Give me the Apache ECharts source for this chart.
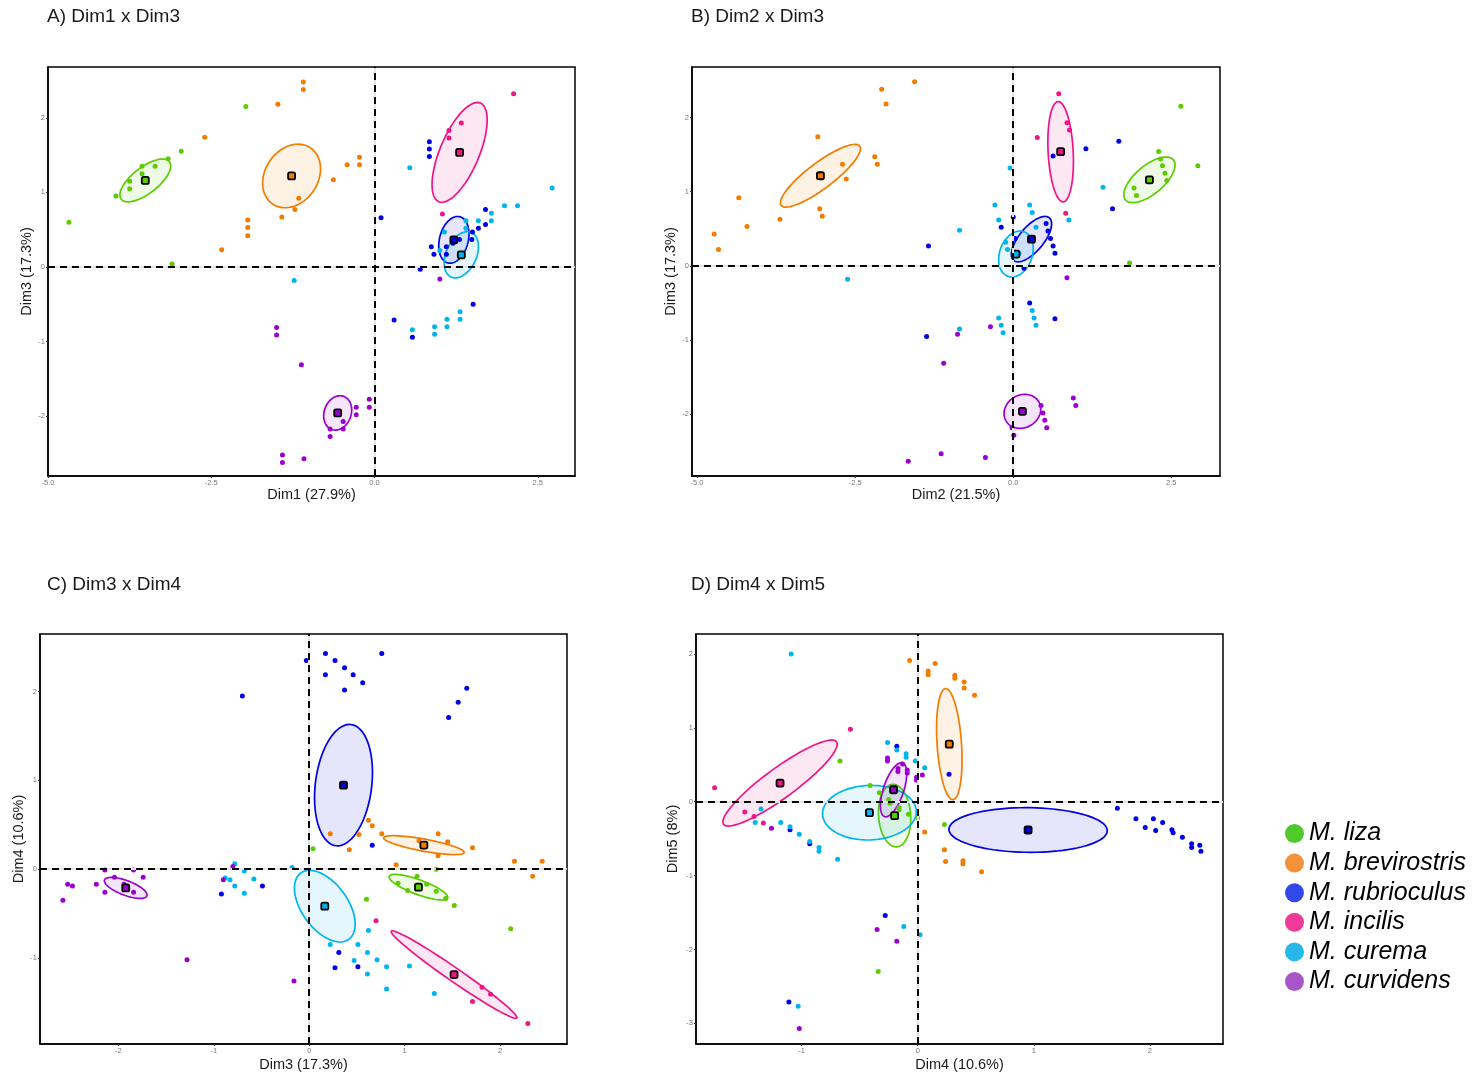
<!DOCTYPE html>
<html>
<head>
<meta charset="utf-8">
<script src="https://cdn.jsdelivr.net/npm/echarts@6/dist/echarts.min.js"></script>
<style>
  html, body { margin: 0; padding: 0; background: #fff; }
  #main { width: 1483px; height: 1076px; }
</style>
</head>
<body>
<div id="main"></div>
<script>
// species, in legend order
var species = ['M. liza', 'M. brevirostris', 'M. rubrioculus', 'M. incilis', 'M. curema', 'M. curvidens'];

// panel texts and tick labels
var panelTitles = ['A) Dim1 x Dim3', 'B) Dim2 x Dim3', 'C) Dim3 x Dim4', 'D) Dim4 x Dim5'];
var xNames = ['Dim1 (27.9%)', 'Dim2 (21.5%)', 'Dim3 (17.3%)', 'Dim4 (10.6%)'];
var yNames = ['Dim3 (17.3%)', 'Dim3 (17.3%)', 'Dim4 (10.6%)', 'Dim5 (8%)'];
var xTicksAB = [-5, -2.5, 0, 2.5];
var yTicksAB = [-2, -1, 0, 1, 2];
var xTicksC = [-2, -1, 0, 1, 2];
var yTicksC = [-1, 0, 1, 2];
var xTicksD = [-1, 0, 1, 2];
var yTicksD = [-3, -2, -1, 0, 1, 2];

// A) Dim1 x Dim3 individuals
var lizaA = [[-4.68,0.60],[-3.96,0.95],[-3.75,1.05],[-3.75,1.15],[-3.56,1.25],[-3.56,1.35],[-3.36,1.35],[-3.16,1.45],[-2.96,1.55],[-1.97,2.15],[-3.10,0.04]];
var brevA = [[-1.09,2.48],[-1.09,2.38],[-1.48,2.18],[-2.60,1.74],[-0.23,1.47],[-0.23,1.37],[-0.42,1.37],[-0.63,1.17],[-1.16,0.92],[-1.22,0.77],[-1.42,0.67],[-1.94,0.63],[-1.94,0.53],[-1.94,0.42],[-2.34,0.23]];
var rubA = [[0.84,1.68],[0.84,1.58],[0.84,1.48],[0.10,0.66],[1.70,0.77],[1.59,0.52],[1.70,0.57],[1.50,0.47],[1.49,0.37],[1.30,0.37],[0.87,0.27],[0.91,0.17],[1.10,0.27],[1.10,0.17],[1.20,0.32],[0.70,-0.03],[0.30,-0.71],[0.58,-0.94],[1.51,-0.50]];
var incA = [[2.13,2.32],[1.33,1.93],[1.14,1.83],[1.14,1.73],[1.04,0.71]];
var curA = [[0.54,1.33],[2.72,1.06],[1.99,0.82],[2.19,0.82],[1.79,0.72],[1.79,0.62],[1.59,0.62],[1.40,0.62],[1.40,0.52],[1.07,0.47],[1.00,0.22],[-1.23,-0.18],[1.31,-0.60],[1.31,-0.70],[1.11,-0.70],[1.11,-0.80],[0.92,-0.80],[0.92,-0.90],[0.58,-0.84]];
var curvA = [[-1.50,-0.81],[-1.50,-0.91],[-1.12,-1.31],[-0.08,-1.77],[-0.08,-1.88],[-0.28,-1.88],[-0.28,-1.98],[-0.48,-2.07],[-0.48,-2.17],[-0.68,-2.17],[-0.68,-2.27],[-1.41,-2.52],[-1.41,-2.62],[-1.08,-2.57],[1.00,-0.16]];

// B) Dim2 x Dim3 individuals
var lizaB = [[2.65,2.15],[2.92,1.35],[2.30,1.54],[2.33,1.44],[2.36,1.35],[2.40,1.25],[2.43,1.15],[1.91,1.05],[1.95,0.95],[1.84,0.04]];
var brevB = [[-1.56,2.48],[-2.08,2.38],[-2.01,2.18],[-3.09,1.74],[-2.19,1.47],[-2.15,1.37],[-2.70,1.37],[-2.64,1.17],[-4.34,0.92],[-4.21,0.53],[-3.69,0.63],[-3.06,0.77],[-3.02,0.67],[-4.73,0.43],[-4.66,0.22]];
var rubB = [[1.15,1.58],[1.67,1.68],[0.63,1.48],[1.57,0.77],[0.00,0.66],[-0.19,0.52],[0.52,0.57],[0.55,0.47],[0.59,0.37],[0.63,0.27],[0.66,0.17],[0.03,0.37],[-1.34,0.27],[0.17,-0.03],[0.26,-0.50],[0.66,-0.71],[-1.37,-0.95]];
var incB = [[0.72,2.32],[0.85,1.93],[0.89,1.83],[0.38,1.73],[0.83,0.71]];
var curB = [[-0.05,1.32],[-0.29,0.82],[0.26,0.82],[0.30,0.72],[-0.23,0.62],[0.36,0.52],[0.88,0.62],[1.42,1.06],[-0.85,0.48],[-0.12,0.32],[-0.09,0.22],[0.09,0.17],[-2.62,-0.18],[0.30,-0.60],[0.33,-0.70],[0.36,-0.80],[-0.23,-0.70],[-0.19,-0.80],[-0.16,-0.90],[-0.85,-0.85]];
var curvB = [[0.85,-0.16],[-0.36,-0.82],[-0.88,-0.92],[-1.10,-1.31],[0.95,-1.78],[0.99,-1.88],[0.44,-1.88],[0.47,-1.98],[0.50,-2.08],[0.53,-2.18],[-0.02,-2.18],[0.01,-2.28],[-1.14,-2.53],[-1.66,-2.63],[-0.44,-2.58]];

// C) Dim3 x Dim4 individuals
var lizaC = [[0.04,0.23],[1.33,0.00],[1.13,-0.08],[0.93,-0.16],[1.23,-0.17],[1.03,-0.24],[1.33,-0.25],[1.43,-0.33],[1.52,-0.41],[0.60,-0.34],[2.11,-0.67]];
var brevC = [[0.62,0.55],[0.66,0.49],[0.76,0.40],[0.52,0.39],[0.22,0.40],[0.42,0.22],[1.35,0.40],[1.45,0.31],[1.15,0.32],[1.71,0.24],[1.35,0.15],[0.91,0.05],[2.15,0.09],[2.44,0.09],[2.34,-0.08]];
var rubC = [[0.17,2.43],[-0.03,2.35],[0.27,2.35],[0.37,2.27],[0.46,2.19],[0.17,2.19],[0.56,2.10],[0.37,2.02],[0.76,2.43],[1.65,2.04],[1.56,1.88],[1.46,1.71],[-0.70,1.95],[0.66,0.27],[-0.49,-0.19],[-0.92,-0.28],[0.31,-0.94],[0.27,-1.11],[0.51,-1.10]];
var incC = [[0.70,-0.58],[1.81,-1.33],[1.90,-1.41],[1.71,-1.49],[2.29,-1.74]];
var curC = [[-0.78,0.06],[-0.88,-0.10],[-0.83,-0.12],[-0.68,-0.02],[-0.78,-0.19],[-0.58,-0.11],[-0.68,-0.27],[-0.18,0.02],[0.22,-0.85],[0.51,-0.85],[0.61,-0.94],[0.47,-1.03],[0.71,-1.02],[0.81,-1.10],[0.61,-1.18],[1.05,-1.09],[0.81,-1.35],[1.31,-1.40],[0.62,-0.69]];
var curvC = [[-2.14,-0.01],[-1.84,-0.01],[-2.04,-0.09],[-1.74,-0.09],[-2.53,-0.17],[-2.48,-0.19],[-2.23,-0.17],[-1.94,-0.17],[-2.14,-0.26],[-1.84,-0.26],[-2.58,-0.35],[-0.80,0.03],[-0.90,-0.12],[-1.28,-1.02],[-0.16,-1.26]];

// D) Dim4 x Dim5 individuals
var lizaD = [[-0.67,0.55],[-0.41,0.22],[-0.33,0.12],[-0.25,0.03],[-0.24,-0.02],[-0.16,-0.08],[-0.16,-0.11],[-0.08,-0.17],[0.00,-0.22],[0.23,-0.31],[-0.34,-2.30]];
var brevD = [[-0.07,1.91],[0.15,1.87],[0.09,1.77],[0.09,1.72],[0.32,1.71],[0.32,1.67],[0.40,1.62],[0.40,1.54],[0.49,1.44],[0.06,-0.41],[0.23,-0.65],[0.24,-0.81],[0.39,-0.80],[0.39,-0.84],[0.55,-0.95]];
var rubD = [[-0.18,0.75],[0.27,0.37],[1.72,-0.09],[1.88,-0.23],[1.96,-0.35],[2.03,-0.23],[2.05,-0.39],[2.11,-0.28],[2.19,-0.38],[2.20,-0.42],[2.28,-0.48],[2.36,-0.57],[2.36,-0.62],[2.43,-0.59],[2.44,-0.67],[-1.10,-0.38],[-0.93,-0.57],[-0.28,-1.54],[-1.11,-2.71]];
var incD = [[-0.58,0.98],[-1.75,0.19],[-1.49,-0.14],[-1.41,-0.20],[-1.33,-0.29]];
var curD = [[-1.09,2.00],[-0.26,0.80],[-0.18,0.70],[-0.10,0.65],[-0.10,0.60],[-0.02,0.55],[0.06,0.46],[-1.35,-0.10],[-1.40,-0.28],[-1.18,-0.28],[-1.10,-0.34],[-1.02,-0.44],[-0.93,-0.54],[-0.85,-0.62],[-0.85,-0.67],[-0.69,-0.78],[-0.12,-1.69],[0.02,-1.80],[-1.03,-2.77]];
var curvD = [[-0.26,0.59],[-0.26,0.55],[-0.17,0.45],[-0.17,0.41],[-0.13,0.51],[-0.09,0.43],[-0.09,0.39],[-0.01,0.33],[0.04,0.36],[-0.01,0.29],[-1.26,-0.36],[-0.35,-1.73],[-0.18,-1.89],[-1.02,-3.07]];

// group ellipses: [centerX, centerY, axis1 dx, axis1 dy, axis2 dx, axis2 dy] (data units)
var ellA = [[-3.51,1.16,0.37,0.25,0.12,-0.14],[-1.27,1.22,0.295,0.373,0.331,-0.205],[1.215,0.364,0.093,0.309,0.212,-0.05],[1.303,1.536,0.319,0.661,0.276,-0.103],[1.329,0.164,0.157,0.297,0.211,-0.086],[-0.564,-1.955,0.092,0.222,0.194,-0.062]];
var ellB = [[2.154,1.16,0.378,0.27,0.145,-0.147],[-3.049,1.215,0.621,0.399,0.123,-0.139],[0.289,0.361,0.282,0.287,0.148,-0.105],[0.75,1.539,-0.041,0.675,0.198,0.009],[0.043,0.16,0.128,0.30,0.242,-0.075],[0.145,-1.959,0.26,0.128,0.129,-0.19]];
var ellC = [[1.144,-0.203,0.306,-0.122,-0.028,-0.077],[1.201,0.271,0.421,-0.083,-0.012,-0.067],[0.359,0.947,0.079,0.683,0.293,-0.038],[1.517,-1.188,0.657,-0.489,0.041,0.062],[0.163,-0.417,0.249,-0.376,0.198,0.147],[-1.922,-0.211,0.222,-0.09,-0.028,-0.077]];
var ellD = [[-0.199,-0.189,-0.018,0.423,0.138,0.014],[0.272,0.779,-0.032,0.752,0.105,0.011],[0.951,-0.383,0.682,-0.009,0,-0.302],[-1.186,0.252,0.486,0.559,0.079,-0.162],[-0.416,-0.149,0.404,0.014,0,-0.369],[-0.208,0.162,0.077,0.364,0.083,-0.042]];

var font = "'Liberation Sans', Arial, Helvetica, sans-serif";
var colors = ['#5ccc00', '#f27c00', '#0000e6', '#ee1589', '#00b4ee', '#9a00cf'];
var legendColors = ['#4fca2a', '#f3923a', '#3249ea', '#ee3b97', '#27b8ea', '#a855c9'];

function rgba(hex, a) {
  var n = parseInt(hex.slice(1), 16);
  return 'rgba(' + (n >> 16 & 255) + ',' + (n >> 8 & 255) + ',' + (n & 255) + ',' + a + ')';
}

var panels = [
  { pts: [lizaA, brevA, rubA, incA, curA, curvA], ell: ellA, xt: xTicksAB, yt: yTicksAB, dec: true,
    grid: { left: 48, top: 67, width: 527, height: 409 }, x: [-5, 3.07], y: [-2.8, 2.68], tl: [47, 7], xg: 11, yg: 13 },
  { pts: [lizaB, brevB, rubB, incB, curB, curvB], ell: ellB, xt: xTicksAB, yt: yTicksAB, dec: true,
    grid: { left: 692, top: 67, width: 528, height: 409 }, x: [-5.08, 3.27], y: [-2.83, 2.68], tl: [691, 7], xg: 11, yg: 10 },
  { pts: [lizaC, brevC, rubC, incC, curC, curvC], ell: ellC, xt: xTicksC, yt: yTicksC, dec: false,
    grid: { left: 40, top: 634, width: 527, height: 410 }, x: [-2.82, 2.70], y: [-1.97, 2.65], tl: [47, 575], xg: 13, yg: 14 },
  { pts: [lizaD, brevD, rubD, incD, curD, curvD], ell: ellD, xt: xTicksD, yt: yTicksD, dec: false,
    grid: { left: 696, top: 634, width: 527, height: 410 }, x: [-1.91, 2.63], y: [-3.28, 2.27], tl: [691, 575], xg: 13, yg: 16 }
];

var grids = [], xAxes = [], yAxes = [], titles = [], series = [];

panels.forEach(function (p, gi) {
  grids.push(Object.assign({ show: true, borderColor: '#000', borderWidth: 1.5, backgroundColor: '#fff' }, p.grid));
  titles.push({ text: panelTitles[gi], left: p.tl[0], top: p.tl[1], padding: 0,
    textStyle: { fontFamily: font, fontSize: 19, fontWeight: 'normal', color: '#1a1a1a' } });
  var xFmt = function (v) { return p.dec ? v.toFixed(1) : String(v); };
  var yFmt = function (v) { return String(v); };
  var common = {
    type: 'value', gridIndex: gi, nameLocation: 'middle',
    nameTextStyle: { fontFamily: font, fontSize: 14.5, color: '#1a1a1a' },
    axisLine: { show: true, onZero: false, lineStyle: { color: '#000', width: 1.5 } },
    splitLine: { show: false }
  };
  xAxes.push(Object.assign({}, common, {
    min: p.x[0], max: p.x[1], name: xNames[gi], nameGap: p.xg,
    axisTick: { show: true, length: 2, customValues: p.xt, lineStyle: { color: '#333', width: 1.2 } },
    axisLabel: { customValues: p.xt, fontSize: 7.5, color: '#777', margin: 3, fontFamily: font, formatter: xFmt }
  }));
  yAxes.push(Object.assign({}, common, {
    min: p.y[0], max: p.y[1], name: yNames[gi], nameGap: p.yg,
    axisTick: { show: true, length: 2, customValues: p.yt, lineStyle: { color: '#333', width: 1.2 } },
    axisLabel: { customValues: p.yt, fontSize: 7.5, color: '#777', margin: 3, fontFamily: font, formatter: yFmt }
  }));

  // confidence ellipses
  p.ell.forEach(function (e, k) {
    series.push({
      type: 'custom', name: species[k], xAxisIndex: gi, yAxisIndex: gi, z: 2, silent: true,
      data: [e],
      renderItem: function (params, api) {
        var cx = api.value(0), cy = api.value(1), ax = api.value(2), ay = api.value(3), bx = api.value(4), by = api.value(5);
        var pts = [];
        for (var i = 0; i <= 90; i++) {
          var t = i / 90 * 2 * Math.PI;
          pts.push(api.coord([cx + ax * Math.cos(t) + bx * Math.sin(t), cy + ay * Math.cos(t) + by * Math.sin(t)]));
        }
        return { type: 'polygon', shape: { points: pts },
          style: { fill: rgba(colors[k], 0.1), stroke: colors[k], lineWidth: 1.7 } };
      }
    });
  });

  // individuals
  p.pts.forEach(function (d, k) {
    var s = {
      type: 'scatter', name: species[k], xAxisIndex: gi, yAxisIndex: gi, z: 3, silent: true,
      data: d, symbolSize: 5, itemStyle: { color: colors[k], opacity: 1 }
    };
    if (k === 0) {
      s.markLine = {
        silent: true, symbol: 'none', animation: false, label: { show: false },
        data: [
          { xAxis: 0, lineStyle: { type: 'solid', color: '#e4e4e4', width: 2 } },
          { yAxis: 0, lineStyle: { type: 'solid', color: '#e4e4e4', width: 2 } },
          { xAxis: 0, lineStyle: { type: [7, 5], color: '#000', width: 2 } },
          { yAxis: 0, lineStyle: { type: [7, 5], color: '#000', width: 2 } }
        ]
      };
    }
    series.push(s);
  });

  // group centroids
  p.ell.forEach(function (e, k) {
    series.push({
      type: 'scatter', name: species[k], xAxisIndex: gi, yAxisIndex: gi, z: 4, silent: true,
      data: [[e[0], e[1]]], symbol: 'roundRect', symbolSize: 7,
      itemStyle: { color: colors[k], borderColor: '#000', borderWidth: 1.8, opacity: 1 }
    });
  });
});

var chart = echarts.init(document.getElementById('main'));
chart.setOption({
  animation: false,
  backgroundColor: '#fff',
  title: titles,
  grid: grids,
  xAxis: xAxes,
  yAxis: yAxes,
  legend: {
    orient: 'vertical', left: 1280, top: 816, itemGap: 4.6, itemWidth: 19, itemHeight: 19,
    icon: 'circle', selectedMode: false,
    textStyle: { fontFamily: font, fontSize: 25, lineHeight: 24, fontStyle: 'italic', color: '#000' },
    data: species.map(function (n, k) { return { name: n, itemStyle: { color: legendColors[k] } }; })
  },
  series: series
});
</script>
</body>
</html>
